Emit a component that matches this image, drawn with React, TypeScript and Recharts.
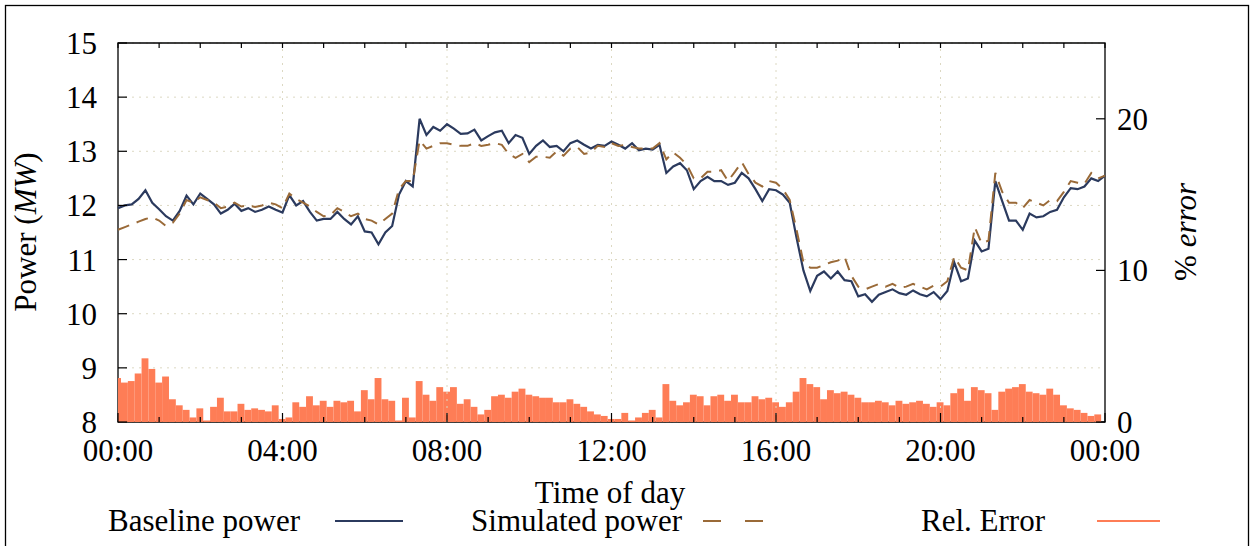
import {
  Bar,
  CartesianGrid,
  ComposedChart,
  Line,
  ReferenceArea,
  ReferenceLine,
  XAxis,
  YAxis,
} from "recharts";

// 10-minute samples from 00:00 to 24:00
const baseline = [
  11.95, 12.0, 12.02, 12.12, 12.28, 12.05, 11.93, 11.8, 11.72, 11.9,
  12.18, 12.02, 12.22, 12.12, 12.02, 11.85, 11.92, 12.03, 11.9, 11.95,
  11.88, 11.92, 11.98, 11.92, 11.87, 12.19, 12.0, 12.08, 11.88, 11.72,
  11.75, 11.75, 11.88, 11.75, 11.65, 11.8, 11.52, 11.5, 11.28, 11.5,
  11.62, 12.2, 12.45, 12.35, 13.6, 13.3, 13.45, 13.38, 13.5, 13.42,
  13.32, 13.33, 13.4, 13.2, 13.28, 13.35, 13.38, 13.15, 13.3, 13.25,
  12.95, 13.1, 13.2, 13.08, 13.1, 13.0, 13.15, 13.2, 13.12, 13.05,
  13.12, 13.1, 13.18, 13.12, 13.05, 13.15, 13.02, 13.05, 13.03, 13.12,
  12.6, 12.72, 12.78, 12.65, 12.3, 12.45, 12.53, 12.45, 12.45, 12.38,
  12.42, 12.6, 12.5, 12.3, 12.08, 12.3, 12.28, 12.2, 12.05, 11.4,
  10.8, 10.42, 10.7, 10.78, 10.65, 10.78, 10.62, 10.6, 10.32, 10.36,
  10.22, 10.35, 10.4, 10.45, 10.38, 10.35, 10.43, 10.36, 10.32, 10.4,
  10.27, 10.42, 10.95, 10.6, 10.65, 11.35, 11.15, 11.2, 12.45, 12.08,
  11.72, 11.72, 11.55, 11.85, 11.78, 11.8, 11.88, 11.92, 12.15, 12.32,
  12.3, 12.35, 12.5, 12.45, 12.55,
];

const simulated = [
  11.55, 11.6, 11.65, 11.7, 11.75, 11.78, 11.72, 11.62, 11.68, 11.85,
  12.1, 12.05, 12.15, 12.1, 12.05, 11.95, 11.98, 12.05, 11.98, 12.0,
  11.97, 12.0, 12.05, 12.02, 11.95, 12.22, 12.12, 12.05, 11.98, 11.88,
  11.8, 11.82, 11.95, 11.88, 11.8, 11.85, 11.75, 11.72, 11.65, 11.75,
  11.85, 12.3, 12.45, 12.45, 13.2, 13.05, 13.1, 13.15, 13.15, 13.12,
  13.1, 13.1, 13.15, 13.1, 13.12, 13.15, 13.12, 12.95, 12.88, 12.95,
  12.8, 12.9, 12.9, 12.88, 13.0, 12.92, 13.05, 13.08, 12.95, 12.98,
  13.1, 13.08, 13.15, 13.1, 13.12, 13.08, 13.05, 13.05, 13.05, 13.15,
  12.85, 12.98, 12.88, 12.75, 12.5, 12.5, 12.62, 12.62, 12.65, 12.45,
  12.62, 12.8, 12.58, 12.42, 12.35, 12.45, 12.42, 12.3, 12.1, 11.55,
  10.95, 10.85, 10.85, 10.9, 10.95, 10.98, 11.05, 10.7, 10.5, 10.45,
  10.5, 10.55, 10.5, 10.55, 10.48, 10.5, 10.55, 10.5, 10.45, 10.52,
  10.5, 10.6, 11.05, 10.85, 10.8, 11.6, 11.3, 11.35, 12.6, 12.25,
  12.05, 12.05, 11.95, 12.1, 12.05, 12.0, 12.1, 12.08, 12.25, 12.45,
  12.42, 12.4, 12.6, 12.5, 12.55,
];

const relError = [
  2.9, 2.6, 2.7, 3.2, 4.2, 3.5, 2.6, 3.0, 1.5, 1.1,
  0.8, 0.3, 0.9, 0.1, 1.0, 1.6, 0.7, 0.7, 1.2, 0.8,
  0.9, 0.8, 0.7, 1.1, 0.2, 0.3, 1.3, 1.0, 1.7, 1.1,
  1.4, 1.0, 1.4, 1.3, 1.4, 0.7, 2.1, 1.5, 2.9, 1.5,
  1.4, 0.1, 1.6, 0.3, 2.7, 1.8, 1.4, 2.3, 2.0, 2.3,
  1.2, 1.5, 1.0, 0.5, 0.8, 1.7, 1.8, 1.6, 2.0, 2.2,
  1.8, 1.7, 1.6, 1.6, 1.3, 1.3, 1.5, 1.2, 1.0, 0.7,
  0.5, 0.4, 0.2, 0.2, 0.6, 0.1, 0.3, 0.6, 0.8, 0.3,
  2.5, 1.4, 1.1, 1.3, 1.8, 1.7, 1.1, 1.7, 1.8, 1.4,
  1.8, 1.3, 1.3, 1.7, 1.5, 1.6, 1.3, 1.0, 1.3, 2.0,
  2.9, 2.5, 2.3, 1.5, 2.1, 1.9, 2.0, 1.8, 1.6, 1.3,
  1.3, 1.4, 1.3, 1.1, 1.4, 1.2, 1.3, 1.4, 1.2, 1.0,
  1.3, 1.1, 1.9, 2.2, 1.4, 2.3, 2.1, 1.9, 0.8, 2.0,
  2.2, 2.3, 2.5, 2.0, 1.9, 1.8, 2.2, 1.8, 1.1, 0.9,
  0.8, 0.6, 0.4, 0.5, 0.0,
];

const STEP_MIN = 10;
const hourTicks = [
  0, 60, 120, 180, 240, 300, 360, 420, 480, 540, 600, 660, 720, 780, 840, 900,
  960, 1020, 1080, 1140, 1200, 1260, 1320, 1380, 1440,
];
const majorTicks = [240, 480, 720, 960, 1200];
const timeLabels: Record<number, string> = {
  0: "00:00",
  240: "04:00",
  480: "08:00",
  720: "12:00",
  960: "16:00",
  1200: "20:00",
  1440: "00:00",
};
const powerTicks = [8, 9, 10, 11, 12, 13, 14, 15];
const errorTicks = [0, 10, 20];

const data = baseline.map((b, i) => ({
  t: i * STEP_MIN,
  base: b,
  sim: simulated[i],
  err: relError[i],
}));

const W = 1253;
const H = 546;
const PL = 118;
const PR = 1105;
const PT = 43;
const PB = 422;
const FONT = "'Liberation Serif', 'DejaVu Serif', serif";
const NAVY = "#2b3a5e";
const BROWN = "#9a6a38";
const CORAL = "#fe7d56";
const GRID = "#dcd8c2";
// one sample slot in px, so the boxes touch like gnuplot's "with boxes"
const SLOT = ((PR - PL) * STEP_MIN) / 1440;

function TimeTick(props: any) {
  const { x, payload } = props;
  const v = payload.value;
  const major = v % 240 === 0;
  const len = major ? 9 : 5;
  return (
    <g>
      <line x1={x} y1={PB} x2={x} y2={PB - len} stroke="#000" strokeWidth={1.2} />
      <line x1={x} y1={PT} x2={x} y2={PT + 5} stroke="#000" strokeWidth={1.2} />
      {major && (
        <text x={x} y={PB + 39} textAnchor="middle" fontSize={31} fontFamily={FONT} fill="#000">
          {timeLabels[v]}
        </text>
      )}
    </g>
  );
}

function PowerTick(props: any) {
  const { y, payload } = props;
  return (
    <g>
      <line x1={PL} y1={y} x2={PL + 9} y2={y} stroke="#000" strokeWidth={1.2} />
      <text x={97} y={y + 11} textAnchor="end" fontSize={31} fontFamily={FONT} fill="#000">
        {payload.value}
      </text>
    </g>
  );
}

function ErrorTick(props: any) {
  const { y, payload } = props;
  return (
    <g>
      <line x1={PR} y1={y} x2={PR - 9} y2={y} stroke="#000" strokeWidth={1.2} />
      <text x={1117} y={y + 11} textAnchor="start" fontSize={31} fontFamily={FONT} fill="#000">
        {payload.value}
      </text>
    </g>
  );
}

function ErrorBox(props: any) {
  const { x, y, width, height } = props;
  if (!height || height <= 0) return null;
  const cx = x + width / 2;
  const left = Math.max(PL, cx - SLOT / 2);
  const right = Math.min(PR, cx + SLOT / 2);
  return <rect x={left} y={y} width={right - left} height={height} fill={CORAL} />;
}

export default function App() {
  return (
    <div style={{ position: "absolute", left: 0, top: 0, width: W, height: H, background: "#fff", overflow: "hidden" }}>
      <ComposedChart
        width={W}
        height={H}
        data={data}
        margin={{ top: PT, right: 0, bottom: 0, left: 0 }}
        barCategoryGap={0}
        barGap={0}
      >
        <CartesianGrid vertical={false} stroke={GRID} strokeDasharray="2 5" yAxisId="left" />
        <XAxis
          dataKey="t"
          type="number"
          domain={[0, 1440]}
          ticks={hourTicks}
          interval={0}
          height={H - PB}
          tick={<TimeTick />}
          tickLine={false}
          axisLine={false}
        />
        <YAxis
          yAxisId="left"
          domain={[8, 15]}
          ticks={powerTicks}
          interval={0}
          width={PL}
          tick={<PowerTick />}
          tickLine={false}
          axisLine={false}
        />
        <YAxis
          yAxisId="right"
          orientation="right"
          domain={[0, 25]}
          ticks={errorTicks}
          interval={0}
          width={W - PR}
          tick={<ErrorTick />}
          tickLine={false}
          axisLine={false}
        />
        {majorTicks.map((m) => (
          <ReferenceLine key={m} x={m} yAxisId="left" stroke={GRID} strokeDasharray="2 5" />
        ))}
        <Bar
          yAxisId="right"
          dataKey="err"
          fill={CORAL}
          barSize={6}
          shape={<ErrorBox />}
          isAnimationActive={false}
        />
        <Line
          yAxisId="left"
          type="linear"
          dataKey="base"
          stroke={NAVY}
          strokeWidth={2.2}
          dot={false}
          isAnimationActive={false}
        />
        <Line
          yAxisId="left"
          type="linear"
          dataKey="sim"
          stroke={BROWN}
          strokeWidth={2}
          strokeDasharray="12 8"
          dot={false}
          isAnimationActive={false}
        />
        <ReferenceArea
          yAxisId="left"
          x1={0}
          x2={1440}
          y1={8}
          y2={15}
          fill="none"
          stroke="#000"
          strokeWidth={1.3}
          ifOverflow="visible"
        />
      </ComposedChart>
      <svg
        width={W}
        height={H}
        style={{ position: "absolute", left: 0, top: 0, pointerEvents: "none" }}
        fontFamily={FONT}
      >
        <rect x={5.5} y={5.5} width={1243} height={560} fill="none" stroke="#000" strokeWidth={1.3} />
        <text x={610} y={503} textAnchor="middle" fontSize={31}>Time of day</text>
        <text transform="translate(36 232) rotate(-90)" textAnchor="middle" fontSize={31}>
          Power (<tspan fontStyle="italic">MW</tspan>)
        </text>
        <text transform="translate(1196 232) rotate(-90)" textAnchor="middle" fontSize={31}>
          % <tspan fontStyle="italic">error</tspan>
        </text>
        <text x={300} y={531} textAnchor="end" fontSize={31}>Baseline power</text>
        <line x1={335} y1={521} x2={403} y2={521} stroke={NAVY} strokeWidth={2} />
        <text x={682} y={531} textAnchor="end" fontSize={31}>Simulated power</text>
        <line x1={703} y1={521} x2={765} y2={521} stroke={BROWN} strokeWidth={2} strokeDasharray="18 24" />
        <text x={1045} y={531} textAnchor="end" fontSize={31}>Rel. Error</text>
        <line x1={1097} y1={521} x2={1160} y2={521} stroke={CORAL} strokeWidth={2} />
      </svg>
    </div>
  );
}
